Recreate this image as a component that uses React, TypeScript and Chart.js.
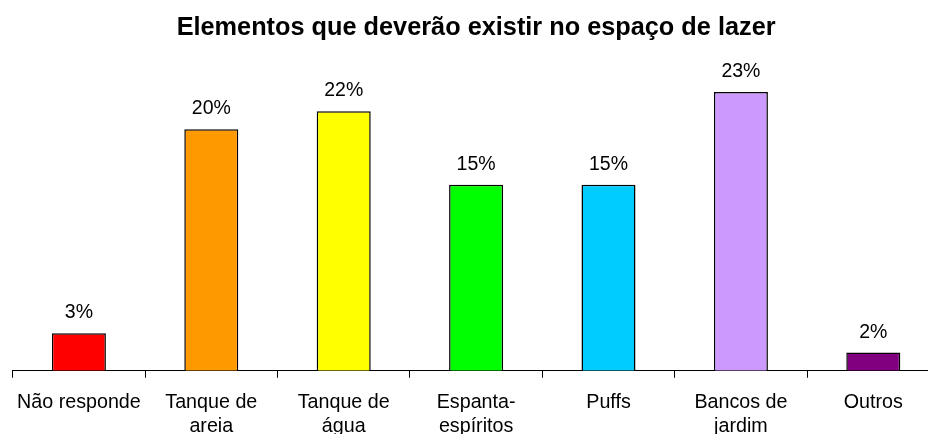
import React, { useEffect, useRef } from "react";
import { Chart, registerables } from "chart.js";

Chart.register(...registerables);

const categories: (string | string[])[] = [
  "Não responde",
  ["Tanque de", "areia"],
  ["Tanque de", "água"],
  ["Espanta-", "espíritos"],
  "Puffs",
  ["Bancos de", "jardim"],
  "Outros",
];
const values = [3.1, 20.0, 21.5, 15.4, 15.4, 23.1, 1.5];
const valueLabels = ["3%", "20%", "22%", "15%", "15%", "23%", "2%"];
const barColors = ["#FF0000", "#FF9900", "#FFFF00", "#00FF00", "#00CCFF", "#CC99FF", "#800080"];
const titleText = "Elementos que deverão existir no espaço de lazer";

const FONT = "'Liberation Sans', Arial, sans-serif";

const valueLabelPlugin = {
  id: "valueLabels",
  afterDatasetsDraw(chart: any) {
    const ctx = chart.ctx;
    const meta = chart.getDatasetMeta(0);
    ctx.save();
    ctx.font = `19.5px ${FONT}`;
    ctx.fillStyle = "#000";
    ctx.textAlign = "center";
    ctx.textBaseline = "alphabetic";
    meta.data.forEach((bar: any, i: number) => {
      ctx.fillText(valueLabels[i], bar.x, bar.y - 15);
    });
    ctx.restore();
  },
};

export default function App() {
  const ref = useRef<HTMLCanvasElement>(null);
  useEffect(() => {
    if (!ref.current) return;
    const chart = new Chart(ref.current, {
      type: "bar",
      data: {
        labels: categories,
        datasets: [
          {
            data: values,
            backgroundColor: barColors,
            borderColor: "#000",
            borderWidth: 1.5,
            categoryPercentage: 1,
            barPercentage: 0.408,
          },
        ],
      },
      options: {
        responsive: false,
        animation: false,
        devicePixelRatio: 1,
        layout: { padding: { left: 12.7, right: 12.5, top: 0, bottom: 0 } },
        plugins: {
          legend: { display: false },
          tooltip: { enabled: false },
          title: {
            display: true,
            text: titleText,
            color: "#000",
            font: { family: FONT, size: 25.3, weight: "bold", lineHeight: 1.2 },
            padding: { top: 12.6, bottom: 26.0 },
          },
        },
        scales: {
          x: {
            grid: {
              drawOnChartArea: false,
              drawTicks: true,
              tickLength: 7,
              color: "#000",
              lineWidth: 1,
            },
            border: { color: "#000", width: 1 },
            ticks: {
              color: "#000",
              font: { family: FONT, size: 19.7, lineHeight: 1.2 },
              padding: 13,
              maxRotation: 0,
              autoSkip: false,
            },
          },
          y: {
            display: false,
            min: 0,
            max: 25,
          },
        },
      },
      plugins: [valueLabelPlugin],
    });
    return () => chart.destroy();
  }, []);
  return (
    <div
      style={{
        position: "fixed",
        left: 0,
        top: 0,
        width: 928,
        height: 434,
        overflow: "hidden",
        background: "#fff",
      }}
    >
      <canvas ref={ref} width={952} height={451} style={{ display: "block" }} />
    </div>
  );
}
